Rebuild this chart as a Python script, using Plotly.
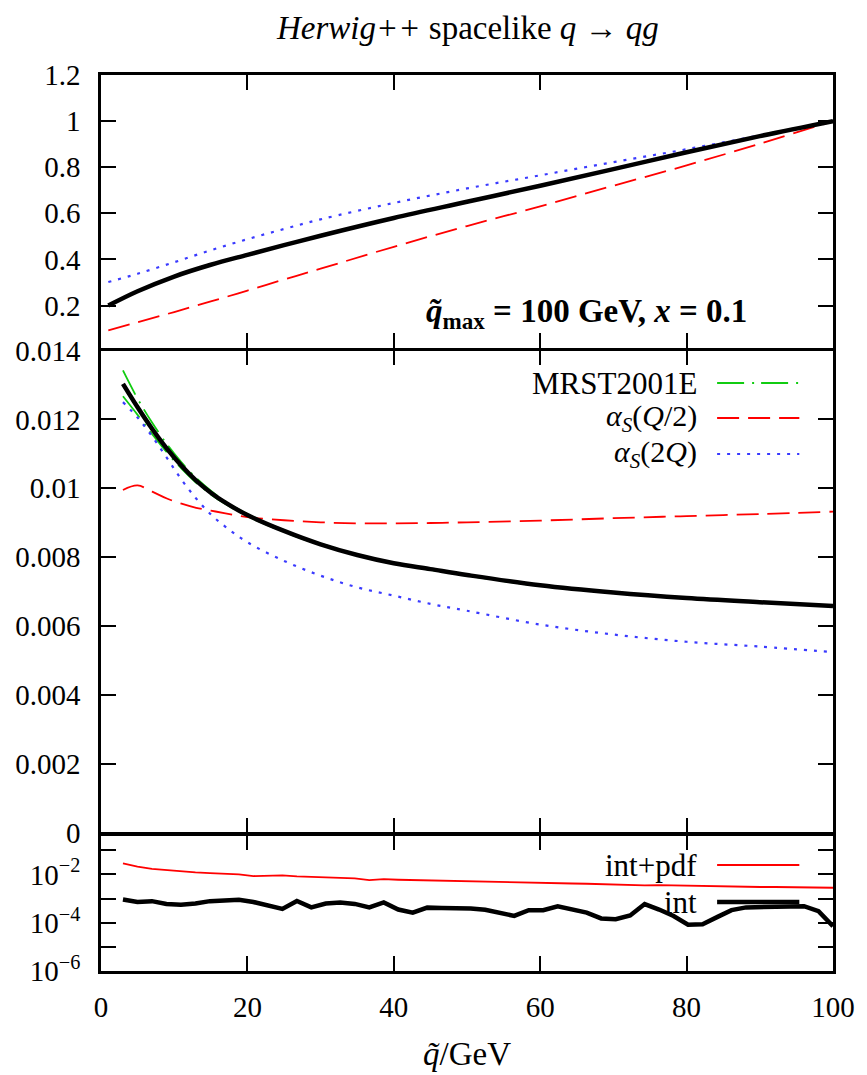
import plotly.graph_objects as go

# ---------------- data ----------------
# top panel: ratio to value at q_max
q_top = [1, 5, 10, 15, 20, 25, 30, 40, 50, 60, 70, 80, 90, 100]
top_mrst = [0.200, 0.262, 0.326, 0.377, 0.420, 0.462, 0.503, 0.580, 0.650, 0.720, 0.792, 0.865, 0.935, 1.0]
top_half = [0.092, 0.128, 0.172, 0.218, 0.265, 0.313, 0.360, 0.455, 0.545, 0.630, 0.720, 0.808, 0.902, 1.0]
top_two = [0.302, 0.338, 0.388, 0.440, 0.488, 0.532, 0.574, 0.645, 0.708, 0.765, 0.822, 0.878, 0.938, 1.0]

# middle panel
q_mid = [3, 5, 7, 9, 11, 13, 15, 17, 20, 25, 30, 35, 40, 45, 50, 60, 70, 80, 90, 100]
mid_mrst = [0.01303, 0.01235, 0.01172, 0.01115, 0.01065, 0.01022, 0.00987, 0.00958, 0.00922, 0.00876,
            0.00837, 0.00806, 0.00782, 0.00765, 0.00748, 0.00718, 0.00697, 0.00681, 0.00669, 0.00658]
mid_err_up = [0.01342, 0.01260, 0.01190, 0.01128, 0.01075, 0.01030, 0.00993, 0.00962, 0.00925, 0.00878,
              0.00839, 0.00808, 0.00783, 0.00765, 0.00748, 0.00717, 0.00696, 0.00680, 0.00668, 0.00657]
mid_err_dn = [0.01267, 0.01213, 0.01157, 0.01104, 0.01057, 0.01016, 0.00982, 0.00954, 0.00919, 0.00873,
              0.00835, 0.00805, 0.00780, 0.00763, 0.00746, 0.00716, 0.00696, 0.00680, 0.00668, 0.00657]
mid_half = [0.00995, 0.01008, 0.00990, 0.00970, 0.00955, 0.00943, 0.00935, 0.00927, 0.00916, 0.00907,
            0.00901, 0.00898, 0.00898, 0.00899, 0.00901, 0.00906, 0.00913, 0.00919, 0.00925, 0.00932]
mid_two = [0.01250, 0.01205, 0.01150, 0.01088, 0.01025, 0.00970, 0.00924, 0.00888, 0.00843, 0.00789,
           0.00746, 0.00712, 0.00688, 0.00664, 0.00644, 0.00604, 0.00575, 0.00554, 0.00540, 0.00524]

# bottom panel: relative errors
q_bot = [3.00, 4.98, 6.96, 8.94, 10.92, 12.90, 14.88, 16.86, 18.84, 20.82,
         22.80, 24.78, 26.76, 28.73, 30.71, 32.69, 34.67, 36.65, 38.63, 40.61,
         42.59, 44.57, 46.55, 48.53, 50.51, 52.49, 54.47, 56.45, 58.43, 60.41,
         62.39, 64.37, 66.35, 68.33, 70.31, 72.29, 74.27, 76.24, 78.22, 80.20,
         82.18, 84.16, 86.14, 88.12, 90.10, 92.08, 94.06, 96.04, 98.02, 100.00]
err_intpdf = [0.0288, 0.0209, 0.0170, 0.0148, 0.0132, 0.0120, 0.0112, 0.0105, 0.0100, 0.0085,
              0.0087, 0.0091, 0.0083, 0.0078, 0.0076, 0.0072, 0.0068, 0.0058, 0.0063, 0.0060,
              0.0058, 0.0056, 0.0054, 0.0052, 0.0050, 0.0049, 0.0048, 0.0046, 0.0045, 0.0044,
              0.0043, 0.0042, 0.0041, 0.0039, 0.0038, 0.0036, 0.0035, 0.0036, 0.0035, 0.0033,
              0.0033, 0.0032, 0.0032, 0.0031, 0.0030, 0.0030, 0.0029, 0.0028, 0.0028, 0.0028]
err_int = [9.1e-4, 7.2e-4, 7.8e-4, 6.0e-4, 5.5e-4, 6.2e-4, 7.8e-4, 8.3e-4, 8.9e-4, 7.2e-4,
           5.4e-4, 3.7e-4, 7.9e-4, 4.3e-4, 6.2e-4, 6.9e-4, 6.0e-4, 4.3e-4, 6.9e-4, 3.5e-4,
           2.6e-4, 4.2e-4, 4.1e-4, 4.0e-4, 3.9e-4, 3.4e-4, 2.6e-4, 1.9e-4, 3.3e-4, 3.3e-4,
           4.8e-4, 3.5e-4, 2.6e-4, 1.5e-4, 1.4e-4, 2.0e-4, 5.9e-4, 3.5e-4, 1.9e-4, 8.3e-5,
           8.7e-5, 1.7e-4, 3.3e-4, 4.3e-4, 4.5e-4, 4.6e-4, 4.7e-4, 4.8e-4, 3.0e-4, 7.1e-5]

x_ticks = [0, 20, 40, 60, 80, 100]
top_ticks = [0.2, 0.4, 0.6, 0.8, 1.0, 1.2]
top_ticktext = ["0.2", "0.4", "0.6", "0.8", "1", "1.2"]
mid_ticks = [0, 0.002, 0.004, 0.006, 0.008, 0.010, 0.012, 0.014]
mid_ticktext = ["0", "0.002", "0.004", "0.006", "0.008", "0.01", "0.012", "0.014"]
bot_ticks = [1e-6, 1e-5, 1e-4, 1e-3, 1e-2, 1e-1]
bot_ticktext = ["10<sup>−6</sup>", "", "10<sup>−4</sup>", "", "10<sup>−2</sup>", ""]

# ---------------- style ----------------
FONT = "Liberation Serif"
FS_TICK = 29
FS_TEXT = 30
BLACK = "#000000"
RED = "#ff0000"
BLUE = "#3a3aff"
GREEN = "#11cc11"
DASH_RED = "22px,9px"
DASH_BLUE = "3px,7px"
DASH_GREEN = "27px,8px,2px,7px"

fig = go.Figure()

# top panel
fig.add_trace(go.Scatter(x=q_top, y=top_half, xaxis="x", yaxis="y", mode="lines",
                         line=dict(color=RED, width=1.8, dash=DASH_RED, shape="spline"), showlegend=False))
fig.add_trace(go.Scatter(x=q_top, y=top_two, xaxis="x", yaxis="y", mode="lines",
                         line=dict(color=BLUE, width=2.2, dash=DASH_BLUE, shape="spline"), showlegend=False))
fig.add_trace(go.Scatter(x=q_top, y=top_mrst, xaxis="x", yaxis="y", mode="lines",
                         line=dict(color=BLACK, width=4.5, shape="spline"), showlegend=False))

# middle panel
for ys in (mid_err_up, mid_err_dn):
    fig.add_trace(go.Scatter(x=q_mid, y=ys, xaxis="x2", yaxis="y2", mode="lines",
                             line=dict(color=GREEN, width=1.8, dash=DASH_GREEN, shape="spline"),
                             showlegend=False))
fig.add_trace(go.Scatter(x=q_mid, y=mid_half, xaxis="x2", yaxis="y2", mode="lines",
                         line=dict(color=RED, width=1.8, dash=DASH_RED, shape="spline"), showlegend=False))
fig.add_trace(go.Scatter(x=q_mid, y=mid_two, xaxis="x2", yaxis="y2", mode="lines",
                         line=dict(color=BLUE, width=2.2, dash=DASH_BLUE, shape="spline"), showlegend=False))
fig.add_trace(go.Scatter(x=q_mid, y=mid_mrst, xaxis="x2", yaxis="y2", mode="lines",
                         line=dict(color=BLACK, width=4.5, shape="spline"), showlegend=False))

# bottom panel
fig.add_trace(go.Scatter(x=q_bot, y=err_intpdf, xaxis="x3", yaxis="y3", mode="lines",
                         line=dict(color=RED, width=1.8), showlegend=False))
fig.add_trace(go.Scatter(x=q_bot, y=err_int, xaxis="x3", yaxis="y3", mode="lines",
                         line=dict(color=BLACK, width=4.5), showlegend=False))

axis_common = dict(showline=True, linecolor=BLACK, linewidth=2.5, mirror="allticks",
                   ticks="inside", ticklen=15, tickwidth=2, tickcolor=BLACK,
                   showgrid=False, zeroline=False,
                   tickfont=dict(family=FONT, size=FS_TICK, color=BLACK))

PLOT_TOP, PLOT_BOT = 75, 971
H = PLOT_BOT - PLOT_TOP


def fy(p):
    return (PLOT_BOT - p) / H


# domains leave a 2.5px gap so the adjoining frame lines coincide
D_TOP = [fy(348.0), 1.0]
D_MID = [fy(832.5), fy(350.5)]
D_BOT = [0.0, fy(835.0)]

fig.update_layout(
    width=867, height=1075,
    margin=dict(l=101, r=27, t=PLOT_TOP, b=1075 - PLOT_BOT),
    paper_bgcolor="white", plot_bgcolor="white",
    showlegend=False,
    xaxis=dict(axis_common, domain=[0, 1], range=[0, 100], anchor="y", tickvals=x_ticks,
               showticklabels=False),
    yaxis=dict(axis_common, domain=D_TOP, range=[0.016, 1.2], anchor="x", tickvals=top_ticks,
               ticktext=top_ticktext, ticklabelstandoff=12),
    xaxis2=dict(axis_common, domain=[0, 1], range=[0, 100], anchor="y2", tickvals=x_ticks,
                showticklabels=False, matches="x"),
    yaxis2=dict(axis_common, domain=D_MID, range=[0, 0.014], anchor="x2", tickvals=mid_ticks,
                ticktext=mid_ticktext, ticklabelstandoff=12),
    xaxis3=dict(axis_common, domain=[0, 1], range=[0, 100], anchor="y3", tickvals=x_ticks,
                ticktext=[str(v) for v in x_ticks], matches="x", ticklabelstandoff=8),
    yaxis3=dict(axis_common, domain=D_BOT, type="log", range=[-6, -0.37], anchor="x3",
                tickvals=bot_ticks, ticktext=bot_ticktext, ticklabelstandoff=12),
)


def px_x(p):
    return (p - 101) / 739.0


annots = []
# title
annots.append(dict(text="<i>Herwig++</i> spacelike <i>q</i> → <i>qg</i>", x=0.5, y=fy(28),
                   xref="paper", yref="paper", showarrow=False, xanchor="center", yanchor="middle",
                   font=dict(family=FONT, size=33, color=BLACK)))
# x axis title
annots.append(dict(text="<i>q̃</i>/GeV", x=0.5, y=fy(1054), xref="paper", yref="paper",
                   showarrow=False, xanchor="center", yanchor="middle",
                   font=dict(family=FONT, size=33, color=BLACK)))
# top panel label
annots.append(dict(text="<b><i>q̃</i><sub>max</sub> = 100 GeV, <i>x</i> = 0.1</b>", x=px_x(591), y=fy(313),
                   xref="paper", yref="paper", showarrow=False, xanchor="center", yanchor="middle",
                   font=dict(family=FONT, size=33, color=BLACK)))

# legends (gnuplot style: text right-justified, sample to the right)
legend_mid = [("MRST2001E", GREEN, DASH_GREEN, 1.8, 383),
              ("<i>α<sub>S</sub></i>(<i>Q</i>/2)", RED, DASH_RED, 1.8, 418),
              ("<i>α<sub>S</sub></i>(2<i>Q</i>)", BLUE, DASH_BLUE, 2.2, 454)]
legend_bot = [("int+pdf", RED, "solid", 1.8, 865),
              ("int", BLACK, "solid", 4.5, 902)]
shapes = []
for text, col, dash, w, ypx in legend_mid + legend_bot:
    annots.append(dict(text=text, x=px_x(705), y=fy(ypx), xref="paper", yref="paper",
                       showarrow=False, xanchor="right", yanchor="middle",
                       font=dict(family=FONT, size=FS_TEXT + (1 if "α" not in text else 0), color=BLACK)))
    shapes.append(dict(type="line", xref="paper", yref="paper", x0=px_x(723), x1=px_x(806),
                       y0=fy(ypx), y1=fy(ypx), line=dict(color=col, width=w, dash=dash)))

fig.update_layout(annotations=annots, shapes=shapes)

fig.write_html("out.html")
